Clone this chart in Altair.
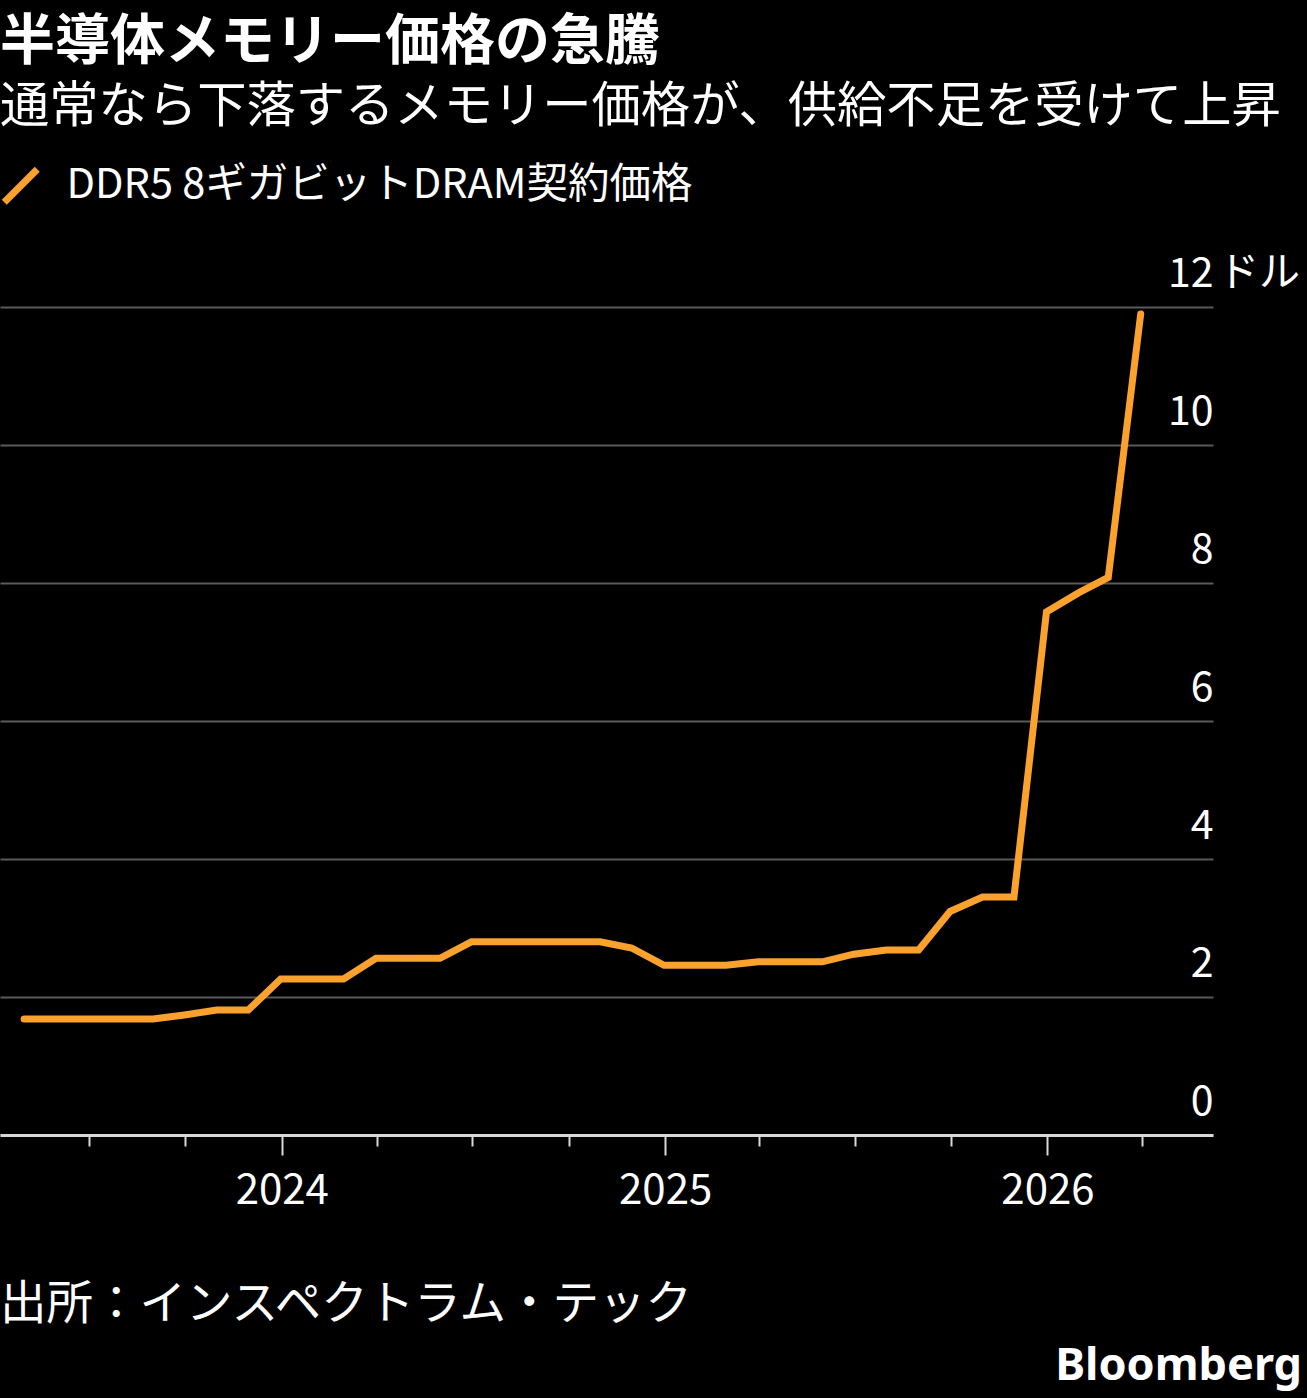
import altair as alt
import pandas as pd

# Month-end DDR5 8Gb DRAM contract prices (USD)
dates = [
    "2023-04-30", "2023-05-31", "2023-06-30", "2023-07-31", "2023-08-31", "2023-09-30",
    "2023-10-31", "2023-11-30", "2023-12-31", "2024-01-31", "2024-02-29", "2024-03-31",
    "2024-04-30", "2024-05-31", "2024-06-30", "2024-07-31", "2024-08-31", "2024-09-30",
    "2024-10-31", "2024-11-30", "2024-12-31", "2025-01-31", "2025-02-28", "2025-03-31",
    "2025-04-30", "2025-05-31", "2025-06-30", "2025-07-31", "2025-08-31", "2025-09-30",
    "2025-10-31", "2025-11-30", "2025-12-31", "2026-01-31", "2026-02-28", "2026-03-31",
]
prices = [
    1.68, 1.68, 1.68, 1.68, 1.68, 1.74,
    1.81, 1.81, 2.26, 2.26, 2.26, 2.56,
    2.56, 2.56, 2.80, 2.80, 2.80, 2.80,
    2.80, 2.71, 2.46, 2.46, 2.46, 2.51,
    2.51, 2.51, 2.62, 2.68, 2.68, 3.24,
    3.45, 3.45, 7.58, 7.86, 8.08, 11.90,
]
series_name = "DDR5 8ギガビットDRAM契約価格"
y_ticks = [0, 2, 4, 6, 8, 10, 12]
quarter_ticks = [
    (2023, 7), (2023, 10), (2024, 1), (2024, 4), (2024, 7), (2024, 10),
    (2025, 1), (2025, 4), (2025, 7), (2025, 10), (2026, 1), (2026, 4),
]

title_text = "半導体メモリー価格の急騰"
subtitle_text = "通常なら下落するメモリー価格が、供給不足を受けて上昇"
source_text = "出所：インスペクトラム・テック"
unit_text = "ドル"
brand_text = "Bloomberg"

W, H = 1213, 828
ORANGE = "#FBA12E"
FONT = "Noto Sans CJK JP"

df = pd.DataFrame({"date": dates, "price": prices, "series": series_name})

x_scale = alt.Scale(
    type="utc",
    domain=[
        alt.DateTime(year=2023, month=4, date=7, utc=True),
        alt.DateTime(year=2026, month=6, date=8, utc=True),
    ],
)
y_scale = alt.Scale(domain=[0, 12])

x_axis = alt.Axis(
    values=[alt.DateTime(year=y, month=m, date=1, utc=True) for y, m in quarter_ticks],
    labelExpr="utcmonth(datum.value) == 0 ? utcFormat(datum.value, '%Y') : ''",
    tickSize={"condition": {"test": "utcmonth(datum.value) == 0", "value": 20}, "value": 11},
    tickColor="#d8d8d8",
    tickWidth=2,
    domainColor="#d8d8d8",
    domainWidth=3,
    labelColor="white",
    labelFont=FONT,
    labelFontSize=42,
    labelPadding=15,
    labelFlush=False,
    grid=False,
    title=None,
)

y_axis = alt.Axis(
    orient="right",
    values=y_ticks,
    format="d",
    grid=True,
    gridColor="#5a5a5a",
    gridWidth=2,
    domain=False,
    ticks=False,
    tickSize=0,
    labelAlign="right",
    labelBaseline="alphabetic",
    labelPadding=0,
    labelOffset=-21,
    labelColor="white",
    labelFont=FONT,
    labelFontSize=41,
    title=None,
)

line = alt.Chart(df).mark_line(strokeWidth=7, strokeCap="round", strokeJoin="miter").encode(
    x=alt.X("date:T", scale=x_scale, axis=x_axis),
    y=alt.Y("price:Q", scale=y_scale, axis=y_axis),
    color=alt.Color(
        "series:N",
        scale=alt.Scale(range=[ORANGE]),
        legend=alt.Legend(
            title=None,
            orient="none",
            legendX=0,
            legendY=-142,
            symbolType="M-1,1L1,-1",
            symbolSize=1089,
            symbolStrokeWidth=7,
            labelColor="white",
            labelFont=FONT,
            labelFontSize=41.5,
            labelOffset=25,
            labelLimit=0,
        ),
    ),
)

unit = alt.Chart(pd.DataFrame({"label": [unit_text], "price": [12]})).mark_text(
    align="left", baseline="alphabetic", dy=-21, fontSize=41, font=FONT, color="white"
).encode(x=alt.value(W + 5), y=alt.Y("price:Q", scale=y_scale), text="label:N")

source = alt.Chart(pd.DataFrame({"t": [source_text]})).mark_text(
    align="left", baseline="alphabetic", fontSize=46.5, font=FONT, color="white"
).encode(x=alt.value(0), y=alt.value(1012), text="t:N")

brand = alt.Chart(pd.DataFrame({"t": [brand_text]})).mark_text(
    align="right", baseline="alphabetic", fontSize=45, font="Noto Sans", fontWeight="bold", color="white"
).encode(x=alt.value(1302), y=alt.value(1073), text="t:N")

chart = (
    alt.layer(line, unit, source, brand)
    .properties(
        width=W,
        height=H,
        autosize=alt.AutoSizeParams(type="none"),
        padding={"left": 0, "top": 307, "right": 94, "bottom": 263},
        background="black",
        title=alt.Title(
            text=title_text,
            subtitle=subtitle_text,
            anchor="start",
            frame="group",
            font=FONT,
            fontSize=55,
            fontWeight="bold",
            color="white",
            subtitleFont=FONT,
            subtitleFontSize=49.3,
            subtitleColor="white",
            subtitlePadding=12,
            offset=32,
        ),
    )
    .configure_view(stroke=None)
)

chart.save("out.html", embed_options={"renderer": "svg", "actions": False})
